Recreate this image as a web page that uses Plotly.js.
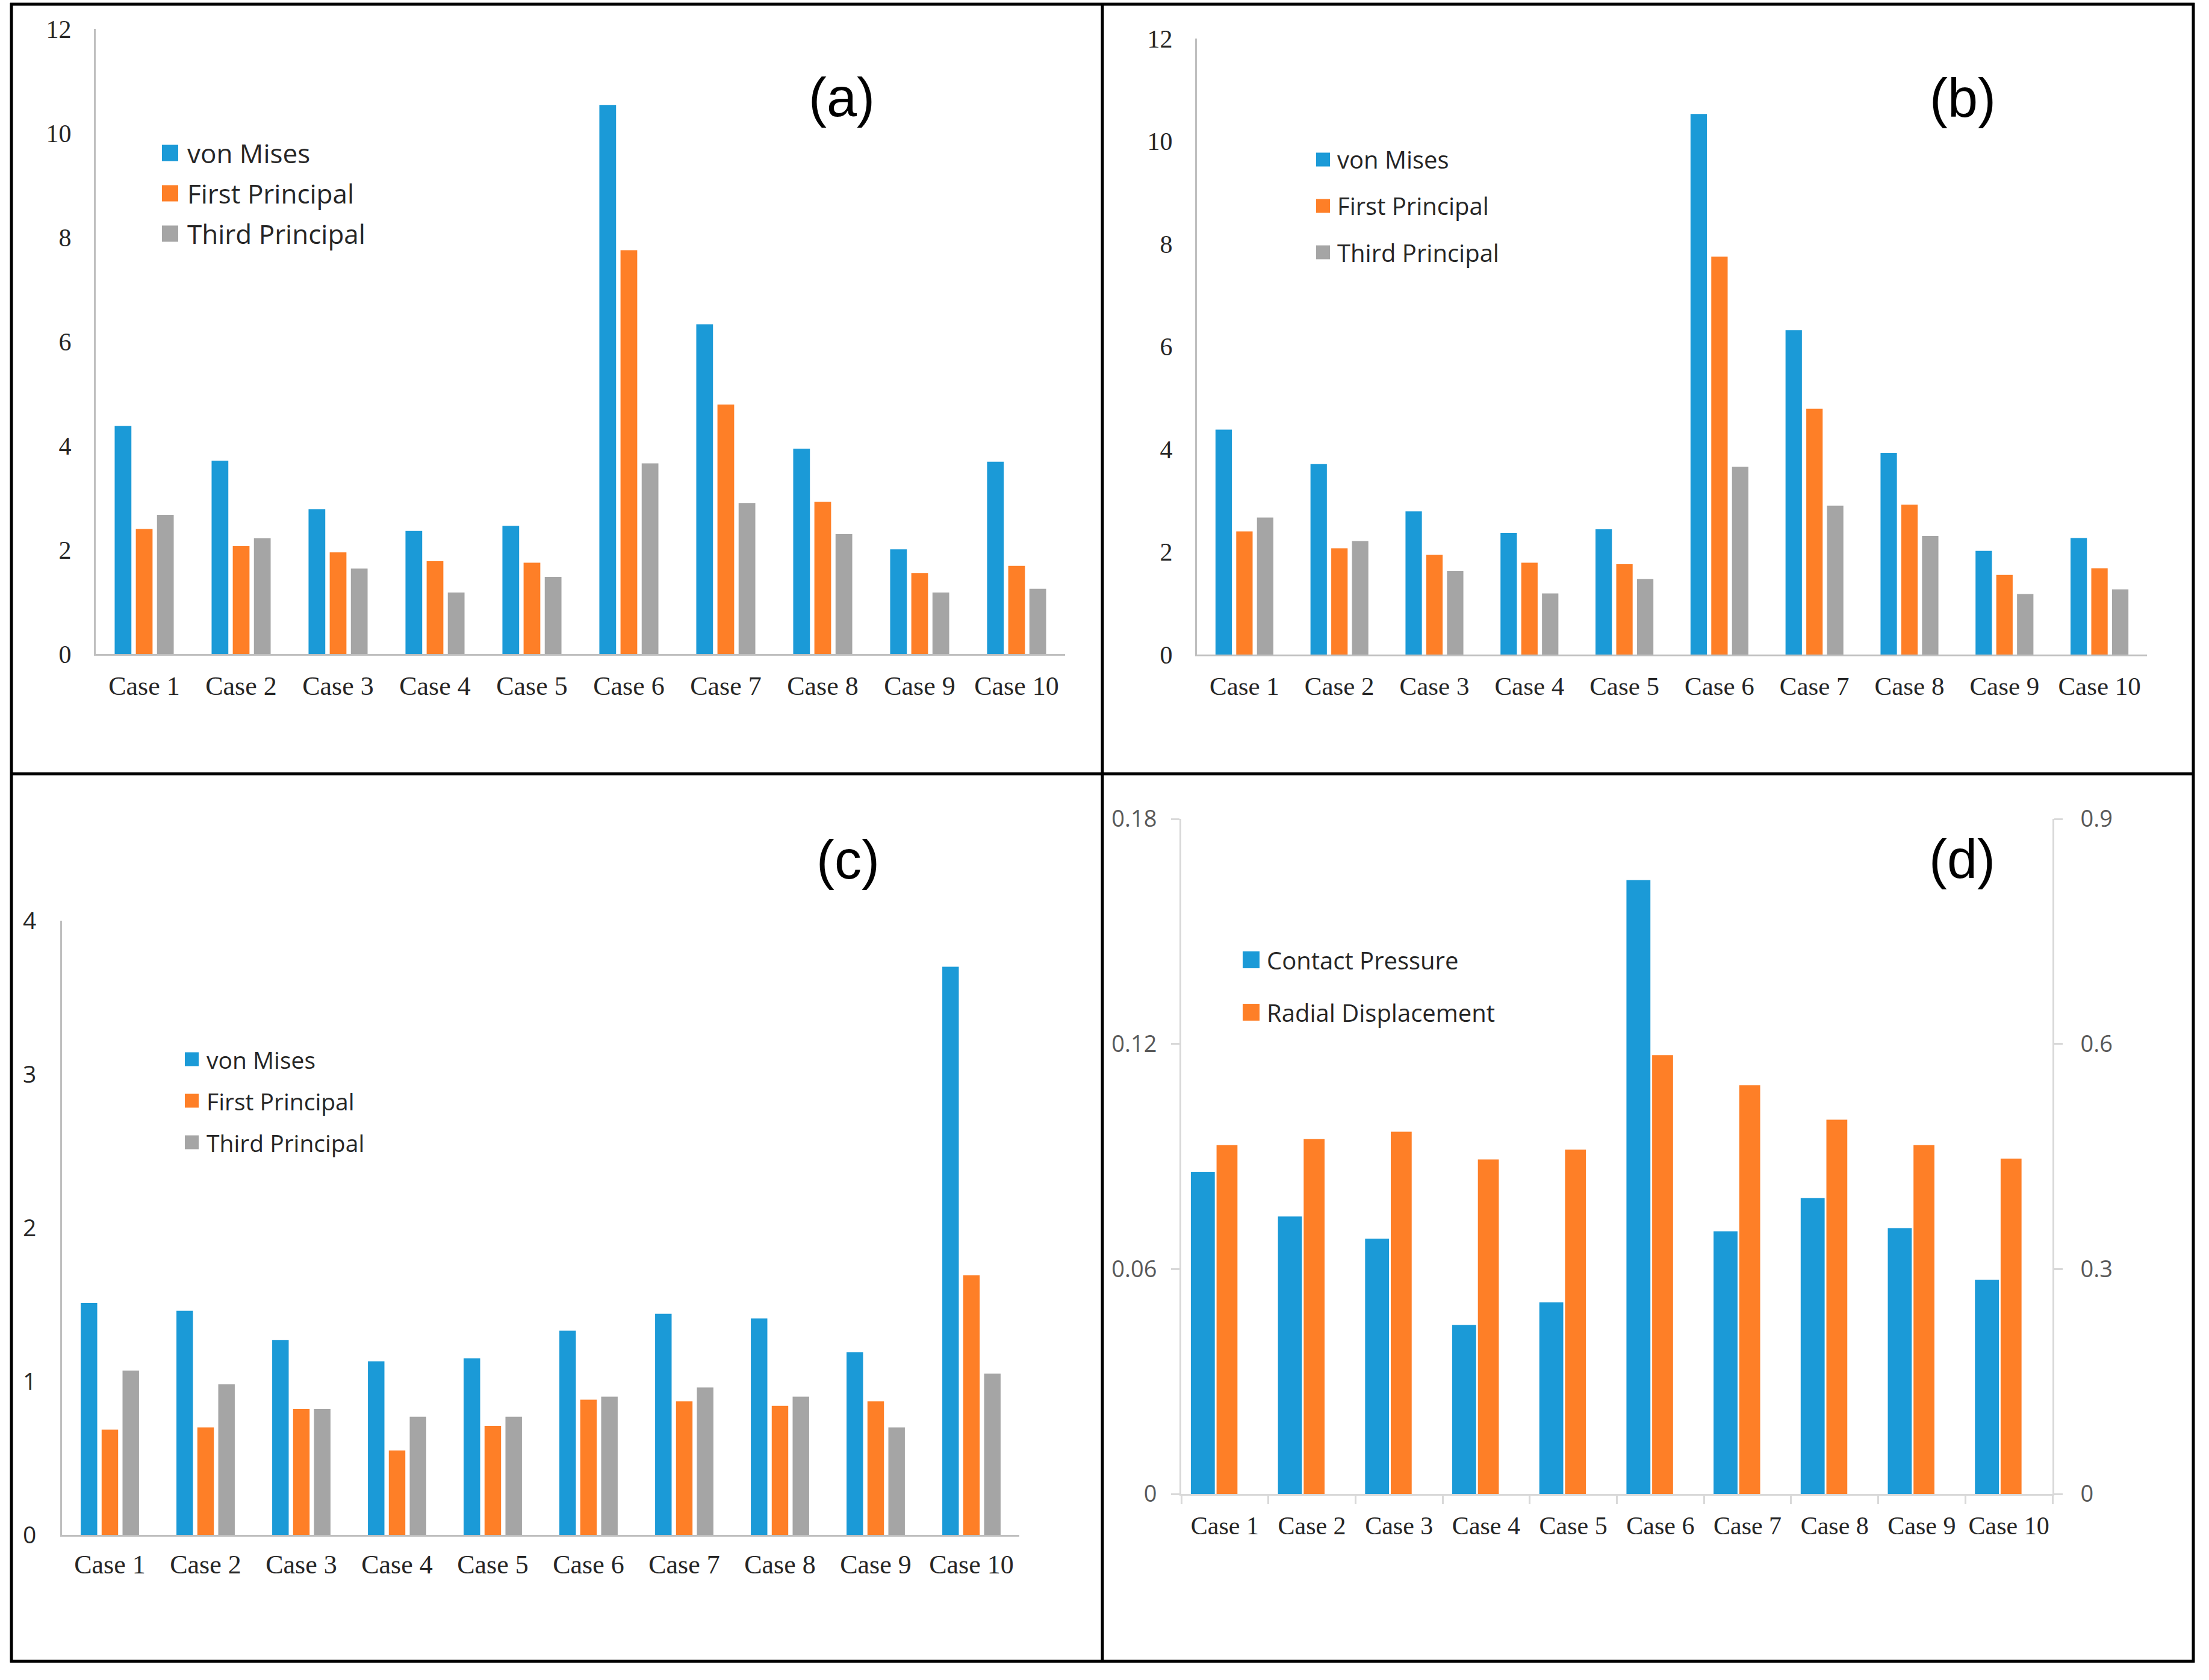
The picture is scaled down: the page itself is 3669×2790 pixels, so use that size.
<!DOCTYPE html>
<html><head><meta charset="utf-8">
<script src="https://cdn.plot.ly/plotly-3.0.1.min.js"></script>
<style>html,body{margin:0;padding:0;background:#fff;}#chart{width:3669px;height:2790px;}</style>
</head><body><div id="chart"></div>
<script>
// ---------- data ----------
const categories = ['Case 1','Case 2','Case 3','Case 4','Case 5','Case 6','Case 7','Case 8','Case 9','Case 10'];
const stressNames = ['von Mises','First Principal','Third Principal'];
const contactNames = ['Contact Pressure','Radial Displacement'];
const panelLabels = ['(a)','(b)','(c)','(d)'];

const aVonMises = [4.38, 3.71, 2.78, 2.36, 2.46, 10.54, 6.33, 3.94, 2.01, 3.69];
const aFirst    = [2.40, 2.07, 1.95, 1.78, 1.75, 7.75, 4.79, 2.92, 1.55, 1.69];
const aThird    = [2.67, 2.22, 1.64, 1.18, 1.48, 3.66, 2.90, 2.30, 1.18, 1.25];

const bVonMises = [4.38, 3.71, 2.79, 2.37, 2.44, 10.53, 6.32, 3.93, 2.02, 2.27];
const bFirst    = [2.40, 2.07, 1.94, 1.79, 1.76, 7.75, 4.79, 2.92, 1.55, 1.68];
const bThird    = [2.67, 2.21, 1.63, 1.19, 1.47, 3.66, 2.90, 2.31, 1.18, 1.27];

const cVonMises = [1.51, 1.46, 1.27, 1.13, 1.15, 1.33, 1.44, 1.41, 1.19, 3.70];
const cFirst    = [0.685, 0.70, 0.82, 0.55, 0.71, 0.88, 0.87, 0.84, 0.87, 1.69];
const cThird    = [1.07, 0.98, 0.82, 0.77, 0.77, 0.90, 0.96, 0.90, 0.70, 1.05];

const dContactPressure    = [0.0859, 0.0740, 0.0681, 0.0451, 0.0511, 0.1637, 0.0700, 0.0789, 0.0709, 0.0571];
const dRadialDisplacement = [0.465, 0.473, 0.483, 0.446, 0.459, 0.585, 0.545, 0.499, 0.465, 0.447];

const abTickVals = [0, 2, 4, 6, 8, 10, 12];
const cTickVals  = [0, 1, 2, 3, 4];
const dLeftTickVals  = [0, 0.06, 0.12, 0.18];
const dLeftTickText  = ['0', '0.06', '0.12', '0.18'];
const dRightTickVals = [0, 0.3, 0.6, 0.9];
const dRightTickText = ['0', '0.3', '0.6', '0.9'];

// ---------- styling / layout helpers ----------
const W = 3669, H = 2790;
const X = p => p / W;
const Y = p => 1 - p / H;
const COL = ['#1b9ad7', '#fe7f27', '#a5a5a5'];
const SERIF = 'Liberation Serif, Times New Roman, serif';
const SANS = 'Open Sans, Noto Sans, sans-serif';
const TXT = '#262626';

function bar(name, y, color, xa, ya, extra) {
  return Object.assign({type:'bar', name:name, x:categories, y:y, xaxis:xa, yaxis:ya,
    marker:{color:color, line:{width:0}}, showlegend:false, hoverinfo:'skip'}, extra || {});
}

const traces = [
  bar(stressNames[0], aVonMises, COL[0], 'x', 'y'),
  bar(stressNames[1], aFirst, COL[1], 'x', 'y'),
  bar(stressNames[2], aThird, COL[2], 'x', 'y'),
  bar(stressNames[0], bVonMises, COL[0], 'x2', 'y2'),
  bar(stressNames[1], bFirst, COL[1], 'x2', 'y2'),
  bar(stressNames[2], bThird, COL[2], 'x2', 'y2'),
  bar(stressNames[0], cVonMises, COL[0], 'x3', 'y3'),
  bar(stressNames[1], cFirst, COL[1], 'x3', 'y3'),
  bar(stressNames[2], cThird, COL[2], 'x3', 'y3'),
  bar(contactNames[0], dContactPressure, COL[0], 'x4', 'y4', {offset:-0.39, width:0.275}),
  bar(contactNames[1], dRadialDisplacement, COL[1], 'x4', 'y5', {offset:-0.095, width:0.24})
];

function xAxis(x0, x1, anchor, fontSize, standoff, extra) {
  return Object.assign({domain:[X(x0), X(x1)], anchor:anchor, type:'category',
    showline:true, linecolor:'#bfbfbf', linewidth:3, ticks:'', showgrid:false, zeroline:false,
    tickangle:0, tickfont:{family:SERIF, size:fontSize, color:TXT}, ticklabelstandoff:standoff, fixedrange:true}, extra || {});
}
function yAxis(y0, y1, anchor, range, tickvals, font, standoff, extra) {
  return Object.assign({domain:[Y(y1), Y(y0)], anchor:anchor, range:range, tickvals:tickvals,
    showline:true, linecolor:'#bfbfbf', linewidth:3, ticks:'', showgrid:false, zeroline:false,
    tickfont:font, ticklabelstandoff:standoff, fixedrange:true}, extra || {});
}

const shapes = [];
const annotations = [];
function hline(x0, x1, y) { shapes.push({type:'line', xref:'paper', yref:'paper', x0:X(x0), x1:X(x1), y0:Y(y), y1:Y(y), line:{color:'#000', width:5}}); }
function vline(x, y0, y1) { shapes.push({type:'line', xref:'paper', yref:'paper', x0:X(x), x1:X(x), y0:Y(y0), y1:Y(y1), line:{color:'#000', width:5}}); }
// frame
hline(17, 3645, 7); hline(17, 3645, 2759); hline(17, 3645, 1285);
vline(19, 5, 2761); vline(3643, 5, 2761); vline(1831, 5, 2761);

function legend(names, colors, sqLeft, sqSize, centers, textLeft, fontSize) {
  names.forEach((n, i) => {
    const c = centers[i];
    shapes.push({type:'rect', xref:'paper', yref:'paper', x0:X(sqLeft), x1:X(sqLeft + sqSize),
      y0:Y(c + sqSize / 2), y1:Y(c - sqSize / 2), fillcolor:colors[i], line:{width:0}});
    annotations.push({xref:'paper', yref:'paper', x:X(textLeft), y:Y(c), xanchor:'left', yanchor:'middle',
      text:n, showarrow:false, font:{family:SANS, size:fontSize, color:TXT}});
  });
}
legend(stressNames, COL, 269, 27, [254, 321, 388], 309, 44);
legend(stressNames, COL, 2186, 23, [265, 342, 419], 2219, 40);
legend(stressNames, COL, 307, 23, [1759, 1828, 1897], 341, 39);
legend(contactNames, COL, 2064, 28, [1594, 1681], 2102, 40);

const labelPos = [[1398, 162], [3260, 163], [1408, 1428], [3259, 1427]];
panelLabels.forEach((t, i) => {
  annotations.push({xref:'paper', yref:'paper', x:X(labelPos[i][0]), y:Y(labelPos[i][1]),
    xanchor:'center', yanchor:'middle', text:t, showarrow:false,
    font:{family:'Liberation Sans, Arial, sans-serif', size:90, color:'#000'}});
});

const serifTick = {family:SERIF, size:42, color:TXT};
const sansTick = {family:SANS, size:39, color:TXT};
const dTick = {family:SANS, size:38, color:'#595959'};

const layout = {
  width:W, height:H, autosize:false,
  margin:{l:0, r:0, t:0, b:0, pad:0},
  paper_bgcolor:'#fff', plot_bgcolor:'rgba(0,0,0,0)',
  showlegend:false, barmode:'group', bargap:0.345, bargroupgap:0.21,
  font:{family:SANS, color:TXT},
  xaxis:  xAxis(159, 1769, 'y', 44, 12),
  yaxis:  yAxis(48, 1086, 'x', [0, 12], abTickVals, serifTick, 29),
  xaxis2: xAxis(1988, 3566, 'y2', 43, 12),
  yaxis2: yAxis(64, 1087, 'x2', [0, 12], abTickVals, serifTick, 29),
  xaxis3: xAxis(103, 1693, 'y3', 44, 8),
  yaxis3: yAxis(1529, 2549, 'x3', [0, 4], cTickVals, sansTick, 32),
  xaxis4: xAxis(1962, 3409, 'y4', 42, 14, {linecolor:'#d9d9d9', linewidth:3, ticks:'outside', tickson:'boundaries',
           ticklen:14, tickwidth:3, tickcolor:'#d9d9d9'}),
  yaxis4: yAxis(1360, 2481, 'x4', [0, 0.18], dLeftTickVals, dTick, 16,
           {ticktext:dLeftTickText, linecolor:'#d9d9d9', ticks:'outside', ticklen:14, tickwidth:3, tickcolor:'#d9d9d9'}),
  yaxis5: yAxis(1360, 2481, 'x4', [0, 0.9], dRightTickVals, dTick, 22,
           {ticktext:dRightTickText, overlaying:'y4', side:'right', linecolor:'#d9d9d9', ticks:'outside', ticklen:14, tickwidth:3, tickcolor:'#d9d9d9'}),
  shapes:shapes,
  annotations:annotations
};

Plotly.newPlot('chart', traces, layout, {staticPlot:true, displayModeBar:false});
</script>
</body></html>
